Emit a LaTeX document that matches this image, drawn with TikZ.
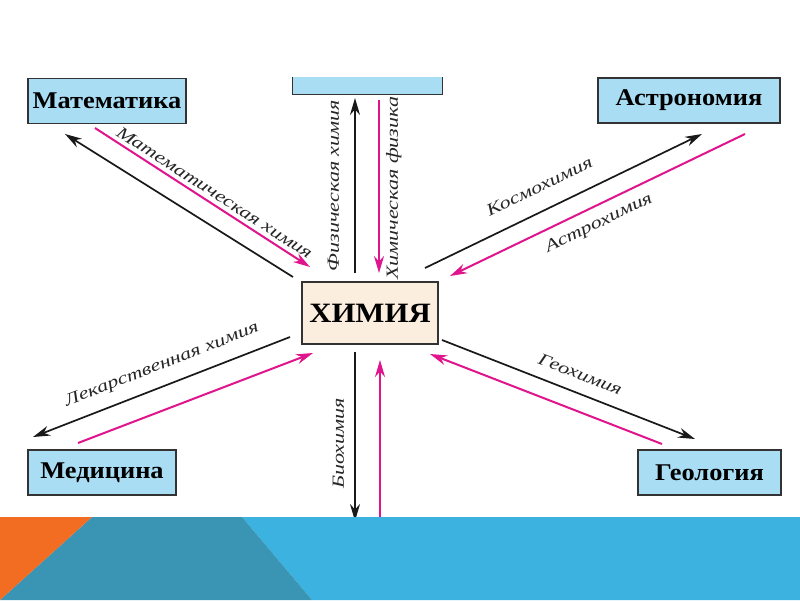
\documentclass[tikz,border=0pt]{standalone}
\usepackage{fontspec}
\setmainfont{Liberation Serif}
\newfontfamily\boxfont[FakeStretch=1.1]{Liberation Serif}
\newfontfamily\lblfont[FakeStretch=1.3]{Liberation Serif}
\usetikzlibrary{arrows.meta}

\definecolor{skyfill}{HTML}{A9DDF3}
\definecolor{peach}{HTML}{FCEEDF}
\definecolor{chemmag}{HTML}{E0148C}
\definecolor{slideorange}{HTML}{F26C21}
\definecolor{slideteal}{HTML}{3A94B3}
\definecolor{slideblue}{HTML}{3BB2DF}

\begin{document}
\begin{tikzpicture}[x=1pt, y=-1pt,
    box/.style={rectangle, draw=black!80, line width=1.3pt, fill=skyfill, minimum height=45pt, inner sep=0pt,
        font=\boxfont\bfseries\fontsize{24}{26}\selectfont},
    lbl/.style={text=black!85, font=\lblfont\itshape\fontsize{17}{19}\selectfont, inner xsep=0pt},
    blk/.style={-{Stealth[length=17pt, width=10pt]}, line width=1.7pt, black!90},
    mag/.style={-{Stealth[length=17pt, width=10pt]}, line width=2pt, chemmag}
]
\useasboundingbox (0,0) rectangle (800,600);
\fill[white] (0,0) rectangle (800,600);

% Boxes
\node[box, minimum width=158pt] (mat) at (107,101) {Математика};
\node[box, minimum width=182pt] (astr) at (689,100.5) {Астрономия};
\node[box, minimum width=148pt] (med) at (102,472.5) {Медицина};
\node[box, minimum width=143pt] (geo) at (709.5,472.5) {Геология};
\node[box, fill=peach, minimum width=136pt, minimum height=62pt, font=\boxfont\bfseries\fontsize{28}{30}\selectfont] (chem) at (370,313) {ХИМИЯ};
\node[fill=skyfill, minimum width=149pt, minimum height=17pt, inner sep=0pt] (phys) at (367.5,85.5) {};
\draw[draw=black!80, line width=1.3pt] (phys.north west) -- (phys.south west) -- (phys.south east) -- (phys.north east);

% End points of the arrows
\coordinate (matA) at (293,277);  \coordinate (matB) at (65,134);
\coordinate (matC) at (95,128);   \coordinate (matD) at (310,267);
\coordinate (physA) at (355,273); \coordinate (physB) at (355,98);
\coordinate (physC) at (379,100); \coordinate (physD) at (379,273);
\coordinate (astrA) at (425,268); \coordinate (astrB) at (702,134);
\coordinate (astrC) at (745,134); \coordinate (astrD) at (450,276);
\coordinate (medA) at (290,337);  \coordinate (medB) at (33,437);
\coordinate (medC) at (78,443);   \coordinate (medD) at (313,353);
\coordinate (bioA) at (355,352);  \coordinate (bioB) at (355,521);
\coordinate (bioC) at (380,600);  \coordinate (bioD) at (380,360);
\coordinate (geoA) at (442,340);  \coordinate (geoB) at (695,439);
\coordinate (geoC) at (662,444);  \coordinate (geoD) at (430,354);

% Arrows
\draw[blk] (matA) -- (matB);
\draw[mag] (matC) -- node[lbl, sloped, above, pos=0.53, inner ysep=4pt] {Математическая химия} (matD);
\draw[blk] (physA) -- node[lbl, sloped, above, pos=0.5, inner ysep=15pt] {Физическая химия} (physB);
\draw[mag] (physC) -- node[lbl, rotate=90, anchor=north, pos=0.51, inner ysep=6pt] {Химическая физика} (physD);
\draw[blk] (astrA) -- node[lbl, sloped, above, pos=0.45, inner ysep=17pt] {Космохимия} (astrB);
\draw[mag] (astrC) -- node[lbl, sloped, below, pos=0.52, inner ysep=9pt] {Астрохимия} (astrD);
\draw[blk] (medA) -- node[lbl, sloped, above, pos=0.47, inner ysep=12pt] {Лекарственная химия} (medB);
\draw[mag] (medC) -- (medD);
\draw[blk] (bioA) -- node[lbl, rotate=90, anchor=south, pos=0.54, inner ysep=10pt] {Биохимия} (bioB);
\draw[mag] (bioC) -- (bioD);
\draw[blk] (geoA) -- node[lbl, sloped, above, pos=0.52, inner ysep=12pt] {Геохимия} (geoB);
\draw[mag] (geoC) -- (geoD);

% Slide banner
\fill[slideblue] (242,517) -- (800,517) -- (800,600) -- (312,600) -- cycle;
\fill[slideteal] (92,517) -- (242,517) -- (312,600) -- (0,600) -- cycle;
\fill[slideorange] (0,517) -- (92,517) -- (0,600) -- cycle;

\end{tikzpicture}
\end{document}
